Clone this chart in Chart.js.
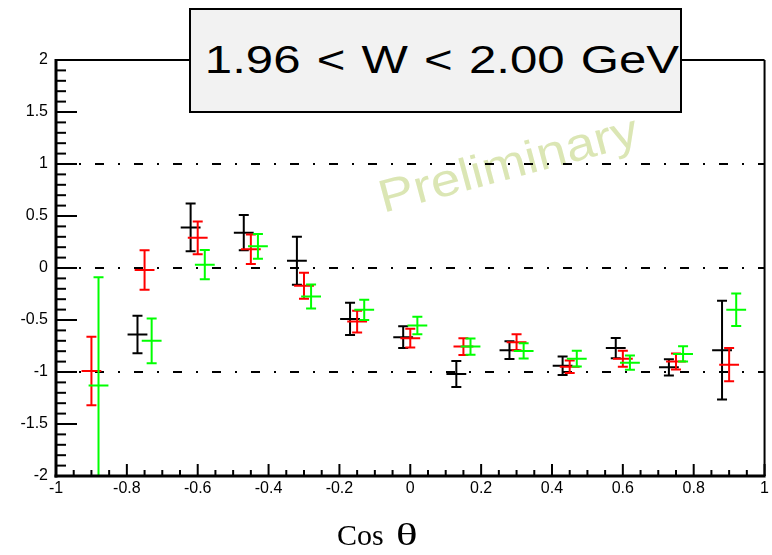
<!DOCTYPE html>
<html><head><meta charset="utf-8">
<script src="https://cdn.jsdelivr.net/npm/chart.js@4"></script>
<style>
html,body{margin:0;padding:0;background:#fff;}
#wrap{position:relative;width:772px;height:555px;overflow:hidden;background:#fff;}
#c{position:absolute;left:0;top:0;z-index:1;}
#prelim{position:absolute;left:508px;top:163px;z-index:0;font-family:"Liberation Sans",Arial,sans-serif;font-size:46px;line-height:52px;color:#dbe6b4;transform:translate(-50%,-50%) rotate(-15deg) scaleX(1.16);white-space:nowrap;}
#titlebox{position:absolute;left:189px;top:8px;width:489px;height:101px;border:2px solid #000;background:#f2f2f2;z-index:2;}
#titletext{position:absolute;left:calc(50% + 6px);top:50%;margin-top:-1px;font-family:"Liberation Sans",Arial,sans-serif;font-size:39px;line-height:44px;color:#000;transform:translate(-50%,-50%) scaleX(1.26);word-spacing:2px;white-space:nowrap;}
#xtitle{position:absolute;left:337px;top:518px;z-index:2;font-family:"Liberation Serif","Times New Roman",serif;font-size:30px;line-height:34px;color:#000;white-space:nowrap;}
#xtitle .th{display:inline-block;margin-left:5px;font-size:31px;transform:scaleX(1.45);transform-origin:left center;}
</style>
</head><body>
<div id="wrap">
  <div id="prelim">Preliminary</div>
  <canvas id="c" width="772" height="555"></canvas>
  <div id="titlebox"><div id="titletext">1.96 &lt; W &lt; 2.00 GeV</div></div>
  <div id="xtitle">Cos <span class="th">θ</span></div>
</div>
<script>
// ---- data ----
const blackX   = [-0.77,-0.62,-0.47,-0.32,-0.17,-0.02,0.13,0.28,0.43,0.58,0.73,0.88];
const blackY   = [-0.64,0.39,0.34,0.07,-0.49,-0.665,-1.02,-0.79,-0.94,-0.77,-0.955,-0.79];
const blackErr = [0.18,0.23,0.17,0.23,0.155,0.105,0.125,0.085,0.088,0.098,0.078,0.475];

const redX   = [-0.9,-0.75,-0.6,-0.45,-0.3,-0.15,0,0.15,0.3,0.45,0.6,0.75,0.9];
const redY   = [-0.99,-0.02,0.29,0.18,-0.17,-0.515,-0.675,-0.756,-0.714,-0.949,-0.872,-0.9,-0.93];
const redErr = [0.33,0.19,0.158,0.142,0.125,0.105,0.09,0.08,0.076,0.06,0.077,0.077,0.16];

const greenX   = [-0.88,-0.73,-0.58,-0.43,-0.28,-0.13,0.02,0.17,0.32,0.47,0.62,0.77,0.92];
const greenY   = [-1.13,-0.70,0.032,0.208,-0.274,-0.402,-0.553,-0.756,-0.797,-0.872,-0.91,-0.826,-0.402];
const greenErr = [1.04,0.215,0.14,0.12,0.116,0.097,0.085,0.078,0.074,0.076,0.068,0.074,0.156];

const xErr = 0.028;

const xTickValues = [-1,-0.8,-0.6,-0.4,-0.2,0,0.2,0.4,0.6,0.8,1];
const xTickLabels = ["-1","-0.8","-0.6","-0.4","-0.2","0","0.2","0.4","0.6","0.8","1"];
const yTickValues = [-2,-1.5,-1,-0.5,0,0.5,1,1.5,2];
const yTickLabels = ["-2","-1.5","-1","-0.5","0","0.5","1","1.5","2"];
const refLines = [1,0,-1];

function pts(xs, ys, es){ return xs.map((x,i)=>({x:x, y:ys[i], e:es[i]})); }

const errPlugin = {
  id:'errbars',
  beforeDatasetsDraw(chart){
    const {ctx, chartArea:a, scales:{y}} = chart;
    ctx.save();
    ctx.strokeStyle='#000'; ctx.lineWidth=2; ctx.setLineDash([9,14,2,14]);
    refLines.forEach(v=>{
      const py = Math.round(y.getPixelForValue(v));
      ctx.beginPath(); ctx.moveTo(a.left, py); ctx.lineTo(a.right, py); ctx.stroke();
    });
    ctx.restore();
  },
  afterDatasetsDraw(chart){
    const {ctx, chartArea:a, scales:{x, y}} = chart;
    ctx.save();
    ctx.beginPath(); ctx.rect(a.left, a.top, a.right-a.left, a.bottom-a.top); ctx.clip();
    ctx.lineWidth = 2;
    const line=(x0,y0,x1,y1)=>{ctx.beginPath();ctx.moveTo(x0,y0);ctx.lineTo(x1,y1);ctx.stroke();};
    chart.data.datasets.forEach(ds=>{
      ctx.strokeStyle = ds.borderColor;
      ds.data.forEach(p=>{
        const xc = x.getPixelForValue(p.x);
        const xl = x.getPixelForValue(p.x - xErr), xr = x.getPixelForValue(p.x + xErr);
        const yc = y.getPixelForValue(p.y);
        const yt = y.getPixelForValue(Math.min(p.y + p.e, y.max));
        const yb = y.getPixelForValue(Math.max(p.y - p.e, y.min));
        line(xl, yc, xr, yc);
        line(xc, yt, xc, yb);
        line(xc-5, yt, xc+5, yt);
        line(xc-5, yb, xc+5, yb);
      });
    });
    ctx.restore();
    // frame and inward ticks
    ctx.save();
    ctx.strokeStyle='#000';
    ctx.lineWidth=2;
    line(a.left, a.top, a.right, a.top);
    line(a.right, a.top, a.right, a.bottom);
    for(let i=0;i<=40;i++){
      const v = -2 + i*0.1;
      const py = y.getPixelForValue(v);
      const len = (i%5===0) ? 21 : 10;
      line(a.left, py, a.left+len, py);
    }
    for(let i=0;i<=40;i++){
      const v = -1 + i*0.05;
      const px = x.getPixelForValue(v);
      const len = (i%4===0) ? 12 : 6;
      line(px, a.bottom, px, a.bottom-len);
    }
    ctx.lineWidth=3;
    line(a.left, a.top-1, a.left, a.bottom+1.5);
    line(a.left-1.5, a.bottom, a.right+1, a.bottom);
    ctx.restore();
  }
};

const tickFont = {family:'"Liberation Sans", Arial, sans-serif', size:16};

new Chart(document.getElementById('c'), {
  type:'scatter',
  data:{datasets:[
    {label:'black', data:pts(blackX,blackY,blackErr), borderColor:'#000000', backgroundColor:'#000000', pointRadius:0, showLine:false},
    {label:'red', data:pts(redX,redY,redErr), borderColor:'#ff0000', backgroundColor:'#ff0000', pointRadius:0, showLine:false},
    {label:'green', data:pts(greenX,greenY,greenErr), borderColor:'#00ff00', backgroundColor:'#00ff00', pointRadius:0, showLine:false}
  ]},
  options:{
    responsive:false, animation:false, devicePixelRatio:1,
    layout:{padding:{top:60,right:5,left:0,bottom:0}},
    plugins:{legend:{display:false}, tooltip:{enabled:false}, title:{display:false}},
    scales:{
      x:{type:'linear', min:-1, max:1,
         afterBuildTicks:s=>{s.ticks = xTickValues.map(v=>({value:v}));},
         afterFit:s=>{s.height=79;},
         ticks:{callback:(v,i)=>xTickLabels[i], padding:3, font:tickFont, color:'#000', maxRotation:0, autoSkip:false},
         grid:{display:false, drawTicks:false}, border:{display:false}},
      y:{type:'linear', min:-2, max:2,
         afterBuildTicks:s=>{s.ticks = yTickValues.map(v=>({value:v}));},
         afterFit:s=>{s.width=56;},
         ticks:{callback:(v,i)=>yTickLabels[i], padding:8, font:tickFont, color:'#000', autoSkip:false},
         grid:{display:false, drawTicks:false}, border:{display:false}}
    }
  },
  plugins:[errPlugin]
});
</script>
</body></html>
